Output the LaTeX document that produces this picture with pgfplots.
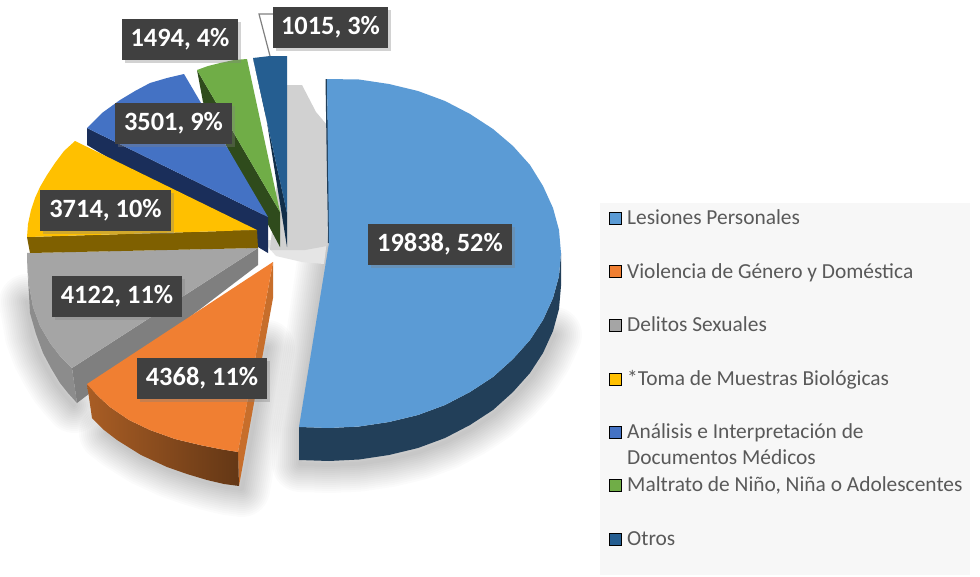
\documentclass[border=0pt]{standalone}
\usepackage{fontspec}
\setmainfont{Carlito}
\usepackage{pgfplots}
\usepackage{pgfplotstable}
\pgfplotsset{compat=1.18}
\usetikzlibrary{shadows}

\definecolor{lesiones}{HTML}{5B9BD5}
\definecolor{lesionesD}{HTML}{223F59}
\definecolor{violencia}{HTML}{F07F32}
\definecolor{violenciaS}{HTML}{C76E2B}
\definecolor{delitos}{HTML}{A5A5A5}
\definecolor{delitosS}{HTML}{7F7F7F}
\definecolor{toma}{HTML}{FFC000}
\definecolor{tomaD}{HTML}{7F6000}
\definecolor{analisis}{HTML}{4472C4}
\definecolor{analisisD}{HTML}{1A2E5A}
\definecolor{maltrato}{HTML}{70AD47}
\definecolor{maltratoD}{HTML}{2F4B1C}
\definecolor{otros}{HTML}{255E91}
\definecolor{otrosD}{HTML}{122F4A}
\definecolor{labelbox}{HTML}{404040}
\definecolor{legtext}{HTML}{595959}

% outlines, in pixels (y down)
\pgfplotstableread[row sep=\\]{x y\\
327 79\\ 359 79.5\\ 389 84\\ 418 91\\ 445 101\\ 470 114\\ 493 129\\ 513 146\\ 530 165\\ 543 186\\ 553 208\\ 559 230\\ 561 253\\ 559 276\\ 553 298\\ 543 320\\ 530 340\\ 513 359\\ 493 377\\ 470 392\\ 445 405\\ 418 415\\ 389 422\\ 359 426.5\\ 329 428\\ 299 427\\ 329 243\\
}\lesionesTop
\pgfplotstableread[row sep=\\]{x y\\
561 253\\ 559 276\\ 553 298\\ 543 320\\ 530 340\\ 513 359\\ 493 377\\ 470 392\\ 445 405\\ 418 415\\ 389 422\\ 359 426.5\\ 329 428\\ 299 427\\ 299 460\\ 329 461\\ 359 459.5\\ 389 455\\ 418 448\\ 445 438\\ 470 425\\ 493 410\\ 513 392\\ 530 373\\ 543 353\\ 553 331\\ 559 309\\ 561 286\\
}\lesionesSide
\pgfplotstableread[row sep=\\]{x y\\
326 245\\ 299 427\\ 299 460\\ 329 461\\ 359 459.5\\ 389 455\\ 418 448\\ 445 438\\ 470 425\\ 493 410\\ 513 392\\ 530 373\\ 543 353\\ 553 331\\
}\lesionesEdge
\pgfplotstableread[row sep=\\]{x y\\
273 262\\ 87 384\\ 98 396\\ 110 407\\ 129 420\\ 150 430\\ 175 439\\ 200 445\\ 220 449\\ 238 452\\
}\violenciaTop
\pgfplotstableread[row sep=\\]{x y\\
87 384\\ 98 396\\ 110 407\\ 129 420\\ 150 430\\ 175 439\\ 200 445\\ 220 449\\ 238 452\\ 239 486\\ 224 484\\ 207 480\\ 187 474\\ 167 467\\ 141 455\\ 117 440\\ 104 430\\ 92 418\\
}\violenciaFront
\pgfplotstableread[row sep=\\]{x y\\
273 262\\ 238 452\\ 239 486\\ 273 298\\
}\violenciaSide
\pgfplotstableread[row sep=\\]{x y\\
264 345\\ 239 486\\ 224 484\\ 207 480\\ 187 474\\ 167 467\\ 141 455\\ 117 440\\ 104 430\\
}\violenciaEdge
\pgfplotstableread[row sep=\\]{x y\\
258 248\\ 27 253\\ 27 260\\ 29 285\\ 33 307\\ 40 326\\ 50 343\\ 60 356\\ 72 368\\
}\delitosTop
\pgfplotstableread[row sep=\\]{x y\\
27 260\\ 29 285\\ 33 307\\ 40 326\\ 50 343\\ 60 356\\ 72 368\\ 77 403\\ 68 393\\ 60 383\\ 51 368\\ 43 353\\ 36 334\\ 30 313\\
}\delitosFront
\pgfplotstableread[row sep=\\]{x y\\
30 300\\ 36 334\\ 43 353\\ 51 368\\ 60 383\\ 68 393\\ 77 403\\
}\delitosEdge
\pgfplotstableread[row sep=\\]{x y\\
258 248\\ 72 368\\ 77 403\\ 258 265\\
}\delitosSide
\pgfplotstableread[row sep=\\]{x y\\
257 230\\ 75 141\\ 64 151\\ 55 163\\ 47 175\\ 40 187\\ 35 198\\ 31 210\\ 28 224\\ 27 237\\
}\tomaTop
\pgfplotstableread[row sep=\\]{x y\\
27 237\\ 257 230\\ 258 248\\ 30 253\\
}\tomaSide
\pgfplotstableread[row sep=\\]{x y\\
268 217\\ 87 128\\ 102 113\\ 120 100\\ 135 91\\ 150 83\\ 167 78\\ 184 74\\
}\analisisTop
\pgfplotstableread[row sep=\\]{x y\\
87 128\\ 268 217\\ 268 253\\ 258 247\\ 87 145\\
}\analisisSide
\pgfplotstableread[row sep=\\]{x y\\
280 212\\ 197 70\\ 208 66\\ 220 63\\ 234 60\\ 247 59\\
}\maltratoTop
\pgfplotstableread[row sep=\\]{x y\\
197 70\\ 203 102\\ 280 247\\ 280 212\\
}\maltratoSide
\pgfplotstableread[row sep=\\]{x y\\
287 213\\ 253 58\\ 270 56\\ 287 56\\
}\otrosTop
\pgfplotstableread[row sep=\\]{x y\\
253 58\\ 265 110\\ 287 247\\ 287 213\\
}\otrosSide

\tikzset{lab/.style={fill=labelbox,text=white,font=\fontsize{26.4}{28}\selectfont\bfseries,
    inner sep=0pt,minimum height=41pt,align=center,
    drop shadow={shadow xshift=2.5pt,shadow yshift=-3pt,opacity=.35}},
  legt/.style={anchor=base west,text=legtext,inner sep=0pt,font=\fontsize{21.4}{26}\selectfont}}
\pgfplotsset{face/.style={draw=none,fill=#1,no markers,line join=round}}

% blurred edge: the same open line stroked wider and wider, very faint
\newcommand\softline[3]{%
  \pgfplotsinvokeforeach{4,8,12,16,20,24,28,32,36,40,44,48,52,56}{%
    \addplot[draw=black,opacity=.017,line width=##1pt,line join=round,line cap=round,no markers]
      table[x expr=\thisrow{x}+#2,y expr=\thisrow{y}+#3]{#1};}}
\newcommand\facet[2]{\addplot[face=#1] table{#2} --cycle;}
\newcommand\legsq[3]{\addplot[only marks,mark=square*,mark size=6pt,mark options={solid,draw=none,fill=#1}] coordinates {(#2,#3)};}

\begin{document}
\begin{tikzpicture}
\begin{axis}[
    scale only axis,width=980pt,height=576pt,
    xmin=0,xmax=980,ymin=0,ymax=576,y dir=reverse,
    hide axis,clip=true]

  % white page, keeps the picture at its full size
  \addplot[face=white] coordinates {(0,0)(980,0)(980,576)(0,576)} --cycle;

  % soft shadows under the pie
  \softline{\lesionesEdge}{1}{4}
  \softline{\violenciaEdge}{3}{3}
  \softline{\delitosEdge}{-3}{2}
  \addplot[face=black!10] coordinates {(262,240)(327,240)(324,264)(302,262)(276,256)} --cycle;
  \addplot[face=black!18] coordinates {(287,85)(302,85)(316,112)(327,125)(327,246)(305,250)(270,250)} --cycle;

  % legend panel
  \addplot[face=black!3] coordinates {(600,203)(970,203)(970,575)(600,575)} --cycle;

  % slices, back to front
  \facet{otrosD}{\otrosSide}
  \facet{otros}{\otrosTop}
  \facet{maltratoD}{\maltratoSide}
  \facet{maltrato}{\maltratoTop}
  \facet{analisisD}{\analisisSide}
  \facet{analisis}{\analisisTop}
  \facet{delitosS}{\delitosSide}
  \facet{delitosS!90!white}{\delitosFront}
  \facet{delitos}{\delitosTop}
  \facet{tomaD}{\tomaSide}
  \facet{toma}{\tomaTop}
  \facet{violenciaS}{\violenciaSide}
  \addplot[draw=none,left color=violenciaS!85!black,right color=violenciaS!50!black,no markers] table{\violenciaFront} --cycle;
  \facet{violencia}{\violenciaTop}
  \facet{lesionesD}{\lesionesSide}
  \addplot[face=lesionesD] coordinates {(325.5,79)(327,79)(330,243)(328,243)} --cycle;
  \facet{lesiones}{\lesionesTop}

  % leader line of the smallest slice
  \addplot[draw=black!50,line width=1.2pt,no markers] coordinates {(270,56)(259,14)(275,14)};

  % data labels
  \node[lab,minimum width=144pt] at (axis cs:440,244.5) {19838, 52\%};
  \node[lab,minimum width=130pt] at (axis cs:202,378.5) {4368, 11\%};
  \node[lab,minimum width=130pt] at (axis cs:117,296.5) {4122, 11\%};
  \node[lab,minimum width=131pt] at (axis cs:105.5,210) {3714, 10\%};
  \node[lab,minimum width=117pt] at (axis cs:173.5,123.5) {3501, 9\%};
  \node[lab,minimum width=116pt] at (axis cs:180,39) {1494, 4\%};
  \node[lab,minimum width=115pt] at (axis cs:330.5,27.5) {1015, 3\%};

  % legend
  \legsq{lesiones}{615.5}{218}
  \legsq{violencia}{615.5}{271}
  \legsq{delitos}{615.5}{325}
  \legsq{toma}{615.5}{379}
  \legsq{analisis}{615.5}{432}
  \legsq{maltrato}{615.5}{485}
  \legsq{otros}{615.5}{539}
  \node[legt] at (axis cs:627,224) {Lesiones Personales};
  \node[legt] at (axis cs:627,278) {Violencia de Género y Doméstica};
  \node[legt] at (axis cs:627,331) {Delitos Sexuales};
  \node[legt] at (axis cs:627,385) {*Toma de Muestras Biológicas};
  \node[legt] at (axis cs:627,438) {Análisis e Interpretación de};
  \node[legt] at (axis cs:627,464) {Documentos Médicos};
  \node[legt] at (axis cs:627,491) {Maltrato de Niño, Niña o Adolescentes};
  \node[legt] at (axis cs:627,545) {Otros};
\end{axis}
\end{tikzpicture}
\end{document}
